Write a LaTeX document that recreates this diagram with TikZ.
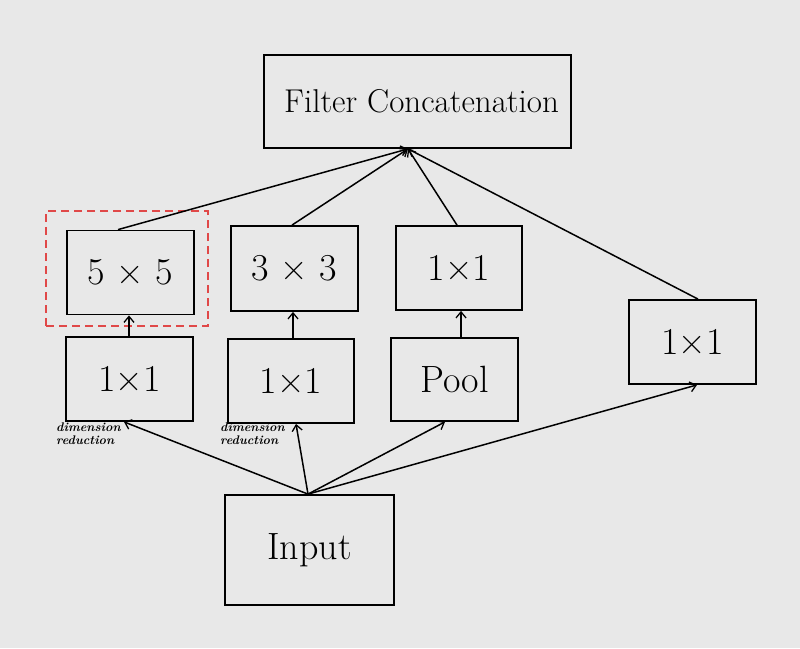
\documentclass[tikz,border=0pt]{standalone}
\usepackage{fontspec}
\usetikzlibrary{arrows.meta,calc}
\definecolor{bg}{HTML}{E8E8E8}
\definecolor{redd}{HTML}{E04848}
\tikzset{
  box/.style={draw=black, line width=1.8pt, minimum width=127pt, minimum height=84pt, inner sep=0pt, font=\fontsize{38}{42}\selectfont},
  conn/.style={line width=1.5pt, -{Straight Barb[length=6pt,width=10pt,line width=1.3pt]}},
  note/.style={font=\fontsize{12.5}{13}\selectfont\bfseries\itshape, align=left, anchor=north west, inner sep=0pt}
}
\begin{document}
\begin{tikzpicture}[x=1pt,y=-1pt]
\fill[bg] (0,0) rectangle (800,648);
\useasboundingbox (0,0) rectangle (800,648);
\node[box, minimum width=307pt, minimum height=93pt, font=\fontsize{33}{36}\selectfont] (concat) at (417.5,101.5) {\hspace{8pt}Filter Concatenation};
\node[box] (k5) at (130.5,272.5) {5 × 5};
\node[box] (r1) at (129.5,379) {1×1};
\node[box, minimum height=85pt] (k3) at (294.5,268.5) {3 × 3};
\node[box, minimum width=126pt] (r2) at (291,381) {1×1};
\node[box, minimum width=126pt] (c1) at (459,268) {1×1};
\node[box, minimum height=83pt] (pool) at (454.5,379.5) {Pool};
\node[box] (r4) at (692.5,342) {1×1};
\node[box, minimum width=169pt, minimum height=110pt] (input) at (309.5,550) {Input};
\node[draw=redd, line width=1.5pt, dash pattern=on 8pt off 5pt, minimum width=162pt, minimum height=115pt, inner sep=0pt] (hl) at (127,268.5) {};
\coordinate (ctop) at ($(concat.south)+(-9.5,0)$);
\coordinate (ibot) at ($(input.north)+(-1.5,0)$);
\node[note] (n1) at (56,423) {dimension\\reduction};
\node[note] (n2) at (220,423) {dimension\\reduction};
\draw[conn] ($(k5.north)+(-12.5,0)$) -- (ctop);
\draw[conn] ($(k3.north)+(-2.5,0)$) -- (ctop);
\draw[conn] ($(c1.north)+(-2,0)$) -- (ctop);
\draw[conn] ($(r4.north)+(5.5,0)$) -- (ctop);
\draw[conn] ($(r1.north)+(-0.5,0)$) -- ($(k5.south)+(-1.5,0)$);
\draw[conn] ($(r2.north)+(2,0)$) -- ($(k3.south)+(-1.5,0)$);
\draw[conn] ($(pool.north)+(6.5,0)$) -- ($(c1.south)+(2,0)$);
\draw[conn] (ibot) -- ($(r1.south)+(-5.5,0)$);
\draw[conn] (ibot) -- ($(r2.south)+(5,0)$);
\draw[conn] (ibot) -- ($(pool.south)+(-9.5,0)$);
\draw[conn] (ibot) -- ($(r4.south)+(4.5,0)$);
\end{tikzpicture}
\end{document}
